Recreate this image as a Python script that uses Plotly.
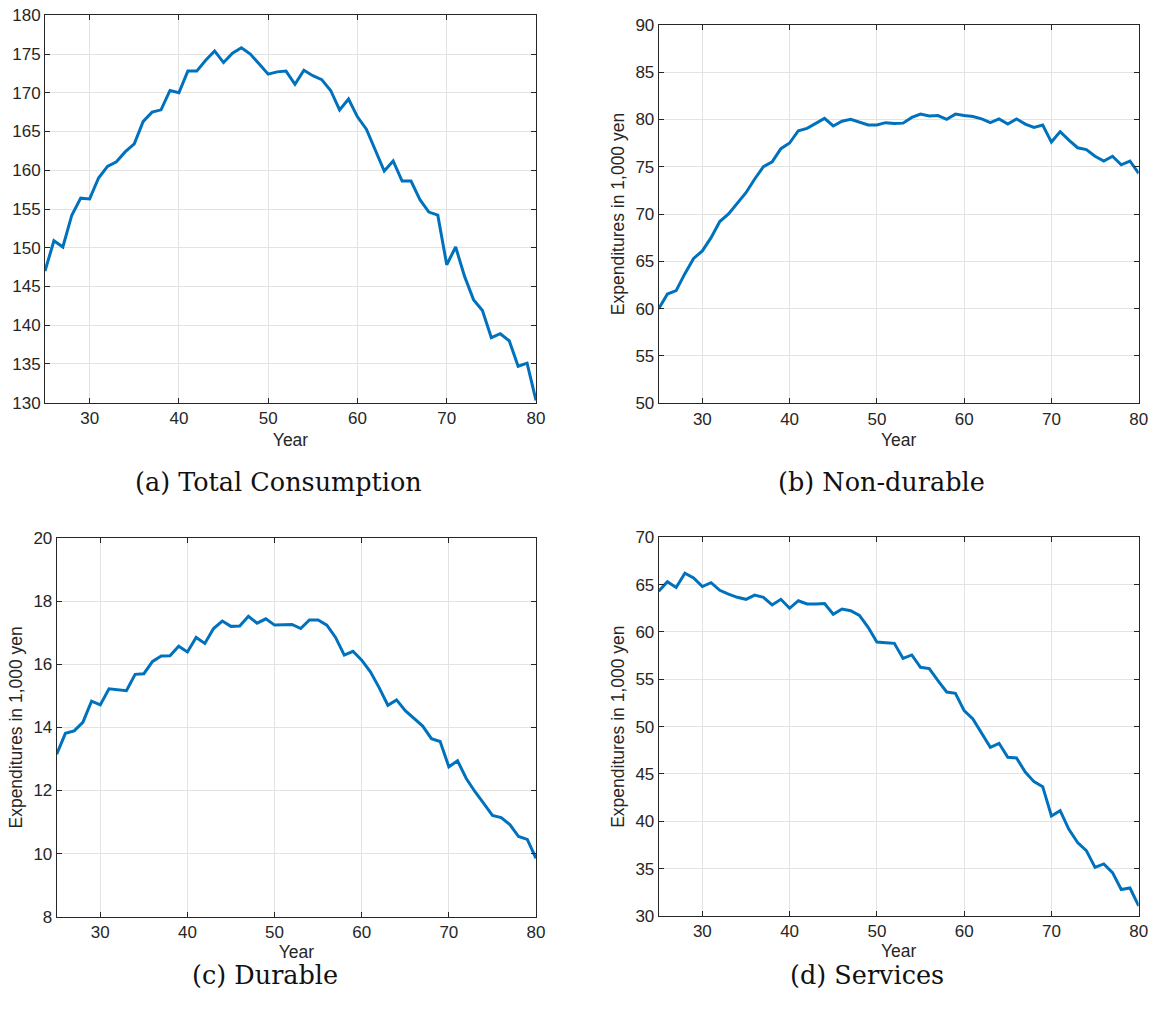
import plotly.graph_objects as go

years = [25, 26, 27, 28, 29, 30, 31, 32, 33, 34, 35, 36, 37, 38, 39, 40, 41, 42, 43, 44,
         45, 46, 47, 48, 49, 50, 51, 52, 53, 54, 55, 56, 57, 58, 59, 60, 61, 62, 63, 64,
         65, 66, 67, 68, 69, 70, 71, 72, 73, 74, 75, 76, 77, 78, 79, 80]

total = [147.0, 150.9, 150.1, 154.2, 156.4, 156.3, 159.0, 160.5, 161.1, 162.4,
         163.4, 166.3, 167.5, 167.8, 170.3, 170.0, 172.8, 172.8, 174.2, 175.4,
         173.9, 175.1, 175.8, 175.0, 173.7, 172.4, 172.7, 172.8, 171.1, 172.9,
         172.2, 171.7, 170.3, 167.8, 169.2, 166.9, 165.3, 162.6, 159.9, 161.2,
         158.6, 158.6, 156.2, 154.6, 154.2, 147.8, 150.1, 146.3, 143.3, 141.9,
         138.4, 138.9, 138.0, 134.7, 135.1, 130.3]

nondurable = [60.0, 61.55, 61.9, 63.7, 65.3, 66.1, 67.5, 69.2, 70.0, 71.1,
              72.25, 73.7, 75.0, 75.5, 76.9, 77.5, 78.8, 79.05, 79.6, 80.1,
              79.3, 79.8, 80.0, 79.7, 79.4, 79.4, 79.65, 79.55, 79.6, 80.2,
              80.55, 80.35, 80.4, 80.0, 80.55, 80.4, 80.3, 80.05, 79.65, 80.05,
              79.5, 80.05, 79.5, 79.15, 79.4, 77.6, 78.7, 77.8, 77.0, 76.8,
              76.1, 75.6, 76.1, 75.2, 75.6, 74.3]

durable = [13.15, 13.81, 13.89, 14.16, 14.83, 14.71, 15.22, 15.20, 15.16, 15.68,
           15.70, 16.09, 16.26, 16.27, 16.57, 16.39, 16.85, 16.66, 17.13, 17.37,
           17.20, 17.21, 17.52, 17.30, 17.44, 17.24, 17.25, 17.26, 17.13, 17.40,
           17.40, 17.24, 16.85, 16.29, 16.41, 16.13, 15.76, 15.26, 14.70, 14.87,
           14.53, 14.30, 14.04, 13.64, 13.55, 12.75, 12.94, 12.38, 11.96, 11.59,
           11.21, 11.14, 10.92, 10.54, 10.45, 9.85]

services = [64.3, 65.3, 64.7, 66.2, 65.7, 64.8, 65.2, 64.4, 64.0, 63.66,
            63.45, 63.9, 63.66, 62.85, 63.45, 62.5, 63.3, 62.96, 62.96, 63.0,
            61.87, 62.43, 62.25, 61.76, 60.5, 58.94, 58.87, 58.8, 57.2, 57.57,
            56.27, 56.13, 54.86, 53.66, 53.52, 51.69, 50.81, 49.3, 47.82, 48.24,
            46.76, 46.69, 45.21, 44.19, 43.66, 40.56, 41.13, 39.15, 37.75, 36.9,
            35.14, 35.5, 34.58, 32.8, 32.96, 31.06]

x_ticks = [30, 40, 50, 60, 70, 80]
y_ticks_a = [130, 135, 140, 145, 150, 155, 160, 165, 170, 175, 180]
y_ticks_b = [50, 55, 60, 65, 70, 75, 80, 85, 90]
y_ticks_c = [8, 10, 12, 14, 16, 18, 20]
y_ticks_d = [30, 35, 40, 45, 50, 55, 60, 65, 70]

captions = ["(a) Total Consumption", "(b) Non-durable", "(c) Durable", "(d) Services"]
x_title = "Year"
y_title = "Expenditures in 1,000 yen"

W, H = 1153, 1012
LINE = "#0072BD"
AX = "#262626"
GRID = "#e3e3e3"
FONT = "Liberation Sans"

# pixel boxes of plot areas: (left, right, top, bottom)
boxes = [
    (45.0, 536.0, 15.3, 402.7),
    (658.7, 1138.7, 24.7, 403.3),
    (56.7, 536.0, 538.0, 916.7),
    (658.7, 1138.7, 537.3, 916.0),
]
series = [total, nondurable, durable, services]
yticks = [y_ticks_a, y_ticks_b, y_ticks_c, y_ticks_d]
yranges = [[130, 180], [50, 90], [8, 20], [30, 70]]
ytitles = [None, y_title, y_title, y_title]
xstandoff = [6, 6, 1, 1]

fig = go.Figure()
layout = dict(
    width=W, height=H,
    margin=dict(l=0, r=0, t=0, b=0, autoexpand=False),
    paper_bgcolor="white", plot_bgcolor="white",
    showlegend=False,
    font=dict(family=FONT, color=AX),
)

for i, (box, ys) in enumerate(zip(boxes, series)):
    n = "" if i == 0 else str(i + 1)
    l, r, t, b = box
    fig.add_trace(go.Scatter(
        x=years, y=ys, mode="lines",
        line=dict(color=LINE, width=3),
        xaxis="x" + n, yaxis="y" + n,
        cliponaxis=False,
    ))
    layout["xaxis" + n] = dict(
        domain=[l / W, r / W], anchor="y" + n,
        range=[25, 80], tickvals=x_ticks,
        ticks="inside", ticklen=5, tickcolor=AX, tickwidth=1,
        showline=True, linecolor=AX, linewidth=1, mirror="ticks",
        showgrid=True, gridcolor=GRID, gridwidth=1, zeroline=False,
        tickfont=dict(family=FONT, size=17, color=AX),
        title=dict(text=x_title, font=dict(family=FONT, size=17.5, color=AX), standoff=xstandoff[i]),
        automargin=False,
        fixedrange=True,
    )
    ya = dict(
        domain=[1 - b / H, 1 - t / H], anchor="x" + n,
        range=yranges[i], tickvals=yticks[i],
        ticks="inside", ticklen=5, tickcolor=AX, tickwidth=1,
        showline=True, linecolor=AX, linewidth=1, mirror="ticks",
        showgrid=True, gridcolor=GRID, gridwidth=1, zeroline=False,
        tickfont=dict(family=FONT, size=17, color=AX),
        automargin=False,
        fixedrange=True,
    )
    if ytitles[i]:
        ya["title"] = dict(text=ytitles[i], font=dict(family=FONT, size=17.5, color=AX), standoff=6)
    layout["yaxis" + n] = ya

fig.update_layout(**layout)

cap_pos = [(278.5, 482), (881, 482), (265, 975), (867, 975)]
for (cx, cy), txt in zip(cap_pos, captions):
    fig.add_annotation(
        x=cx / W, y=1 - cy / H, xref="paper", yref="paper",
        text=txt, showarrow=False, xanchor="center", yanchor="middle",
        font=dict(family="DejaVu Serif", size=25.5, color="#111111"),
    )

fig.write_html("out.html", config={"displayModeBar": False})
